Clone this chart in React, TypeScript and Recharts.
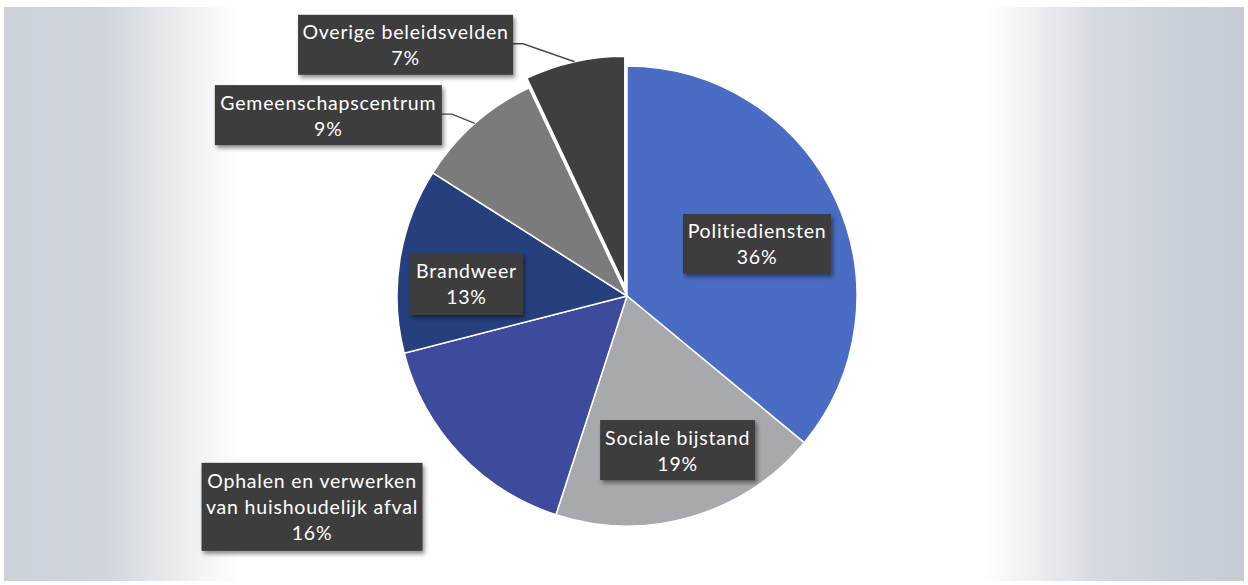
import React from "react";
import { PieChart, Pie, Cell } from "recharts";

// ---- data ----
const categories = [
  "Politiediensten",
  "Sociale bijstand",
  "Ophalen en verwerken van huishoudelijk afval",
  "Brandweer",
  "Gemeenschapscentrum",
  "Overige beleidsvelden",
];
const shares = [36, 19, 16, 13, 9, 7];
const explodedIndex = 5;

// ---- styles / layout (not data) ----
const sliceColors = ["#4a6cc4", "#a7a9ad", "#3e4a9c", "#25407d", "#7b7b7b", "#3f3f3f"];
const labelLayout = [
  { shift: 3.4, r: 0.609, w: 148, h: 60, leader: false },
  { shift: -2.0, r: 0.705, w: 155, h: 60, leader: false },
  { shift: 9.4, r: 1.648, w: 221, h: 88, leader: false },
  { shift: -4.7, r: 0.7, w: 113, h: 62, leader: false },
  { shift: -17.4, r: 1.518, w: 227, h: 60, leader: true },
  { shift: -28.8, r: 1.456, w: 215, h: 60, leader: true },
];

const W = 1248;
const H = 585;
const CX = 627;
const CY = 296;
const R = 230;
const EXPLODE = 10;
const MAX_CHARS = 23;
const FONT = "Lato, 'Open Sans', sans-serif";

const data = categories.map((name, i) => ({ name, value: shares[i] }));
const total = shares.reduce((a, b) => a + b, 0);
const explodedMidCW =
  ((shares.slice(0, explodedIndex).reduce((a, b) => a + b, 0) + shares[explodedIndex] / 2) / total) * 360;
const RAD = Math.PI / 180;
const exDx = EXPLODE * Math.sin(explodedMidCW * RAD);
const exDy = -EXPLODE * Math.cos(explodedMidCW * RAD);

function wrap(text: string): string[] {
  const words = text.split(" ");
  const lines: string[] = [];
  let cur = "";
  for (const w of words) {
    const t = cur ? cur + " " + w : w;
    if (t.length > MAX_CHARS && cur) {
      lines.push(cur);
      cur = w;
    } else cur = t;
  }
  if (cur) lines.push(cur);
  return lines;
}

const renderLabel = (props: any) => {
  const { midAngle, index, name, value } = props;
  const lay = labelLayout[index];
  const midCW = 90 - midAngle;
  const a = (midCW + lay.shift) * RAD;
  const x = CX + lay.r * R * Math.sin(a);
  const y = CY - lay.r * R * Math.cos(a);
  const lines = [...wrap(String(name)), `${value}%`];
  const lh = 26;
  let leader = null;
  if (lay.leader) {
    const ox = index === explodedIndex ? exDx : 0;
    const oy = index === explodedIndex ? exDy : 0;
    const ax = CX + ox + R * Math.sin(midCW * RAD);
    const ay = CY + oy - R * Math.cos(midCW * RAD);
    const sx = x + lay.w / 2;
    const sy = y - 1;
    leader = (
      <polyline
        points={`${sx},${sy} ${sx + 10},${sy} ${ax},${ay}`}
        fill="none"
        stroke="#4a4a4a"
        strokeWidth={1.4}
      />
    );
  }
  return (
    <g key={`lbl-${index}`}>
      {leader}
      <rect
        x={x - lay.w / 2}
        y={y - lay.h / 2}
        width={lay.w}
        height={lay.h}
        fill="#3e3e3e"
        filter="url(#boxShadow)"
      />
      {lines.map((t, i) => (
        <text
          key={i}
          x={x}
          y={y + (i - (lines.length - 1) / 2) * lh}
          textAnchor="middle"
          dominantBaseline="central"
          fill="#ffffff"
          fontFamily={FONT}
          fontSize={19.5}
          letterSpacing={0.8}
        >
          {t}
        </text>
      ))}
    </g>
  );
};

export default function App() {
  return (
    <div style={{ position: "absolute", left: 0, top: 0, width: W, height: H, background: "#ffffff" }}>
      <div
        style={{
          position: "absolute",
          left: 4,
          top: 7,
          width: W - 8,
          height: H - 11,
          background:
            "linear-gradient(90deg, #ccd2d9 0%, #d0d5dc 8%, #e6e9ec 13%, #ffffff 19%, #ffffff 79%, #eef0f2 83%, #d7dbe1 88%, #cbd1d8 94%, #c6ccd3 100%)",
        }}
      />
      <div style={{ position: "absolute", left: 0, top: 0 }}>
        <PieChart width={W} height={H} margin={{ top: 0, right: 0, bottom: 0, left: 0 }}>
          <defs>
            <filter id="boxShadow" x="-10%" y="-20%" width="125%" height="150%">
              <feDropShadow dx="2" dy="3" stdDeviation="2" floodColor="#000" floodOpacity="0.45" />
            </filter>
          </defs>
          <Pie
            data={data}
            dataKey="value"
            nameKey="name"
            cx={CX}
            cy={CY}
            outerRadius={R}
            startAngle={90}
            endAngle={-270}
            stroke="#ffffff"
            strokeWidth={1.5}
            isAnimationActive={false}
            labelLine={false}
            label={false}
          >
            {data.map((d, i) => (
              <Cell
                key={d.name}
                fill={i === explodedIndex ? "none" : sliceColors[i]}
                stroke={i === explodedIndex ? "none" : "#ffffff"}
              />
            ))}
          </Pie>
          <Pie
            data={data}
            dataKey="value"
            nameKey="name"
            cx={CX + exDx}
            cy={CY + exDy}
            outerRadius={R}
            startAngle={90}
            endAngle={-270}
            stroke="#ffffff"
            strokeWidth={1.5}
            isAnimationActive={false}
            labelLine={false}
            label={renderLabel}
          >
            {data.map((d, i) => (
              <Cell
                key={d.name}
                fill={i === explodedIndex ? sliceColors[i] : "none"}
                stroke={i === explodedIndex ? "#ffffff" : "none"}
              />
            ))}
          </Pie>
        </PieChart>
      </div>
    </div>
  );
}
